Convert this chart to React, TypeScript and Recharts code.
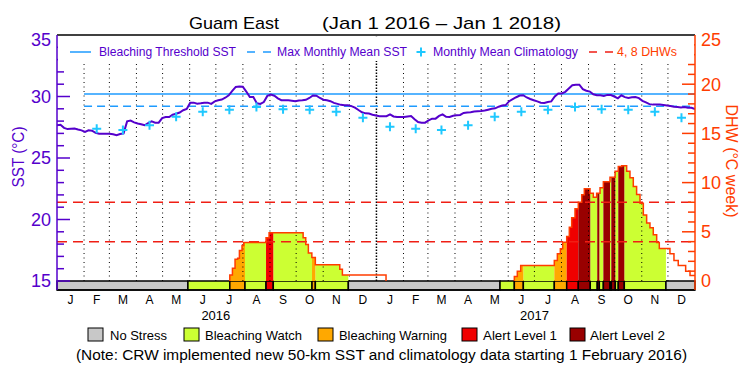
import React from "react";
import {
  ComposedChart,
  Line,
  Area,
  Scatter,
  XAxis,
  YAxis,
  ReferenceLine,
  ReferenceArea,
} from "recharts";

const FONT = "'Liberation Sans', Arial, sans-serif";
const PURPLE = "#5500cc";
const BLUE = "#1e9bff";
const CYAN = "#1ec8ff";
const ORANGE_RED = "#ff3c00";
const DASH_RED = "#f01e14";

// x axis is days since 1 Jan 2016
const END_DAY = 731;
const monthStartDay = [
  0, 31, 60, 91, 121, 152, 182, 213, 244, 274, 305, 335,
  366, 397, 425, 456, 486, 517, 547, 578, 609, 639, 670, 700, 731,
];
const monthLetters = [
  "J", "F", "M", "A", "M", "J", "J", "A", "S", "O", "N", "D",
  "J", "F", "M", "A", "M", "J", "J", "A", "S", "O", "N", "D",
];
const years = ["2016", "2017"];
const yearCenterDay = [182, 547];

const sstTicks = [15, 16, 17, 18, 19, 20, 21, 22, 23, 24, 25, 26, 27, 28, 29, 30, 31, 32, 33, 34, 35];
const dhwTicks = [0, 1, 2, 3, 4, 5, 6, 7, 8, 9, 10, 11, 12, 13, 14, 15, 16, 17, 18, 19, 20, 21, 22, 23, 24, 25];

// SST, evenly spaced from 1 Jan 2016 to 1 Jan 2018
const sst = [
  27.66, 27.7, 27.45, 27.35, 27.38, 27.4, 27.32, 27.25, 27.12, 27.25,
  27.22, 27.05, 26.98, 26.98, 26.98, 26.98, 26.93, 26.86, 26.95, 27.0,
  27.98, 28.04, 27.9, 27.8, 27.75, 27.66, 27.83, 27.98, 27.87, 27.87,
  28.25, 28.33, 28.33, 28.52, 28.6, 28.7, 28.88, 28.98, 29.5, 29.5,
  29.42, 29.45, 29.5, 29.5, 29.4, 29.6, 29.69, 29.75, 29.9, 30.1,
  30.45, 30.78, 30.82, 30.8, 30.4, 29.96, 29.96, 29.45, 29.4, 29.55,
  30.05, 30.15, 30.06, 29.85, 29.7, 29.69, 29.69, 29.66, 29.62, 29.68,
  29.69, 29.73, 29.88, 30.08, 30.07, 29.88, 29.74, 29.7, 29.62, 29.48,
  29.4, 29.32, 29.28, 29.28, 29.22, 29.1, 28.9, 28.72, 28.63, 28.61,
  28.52, 28.46, 28.4, 28.4, 28.4, 28.55, 28.38, 28.33, 28.33, 28.33,
  28.38, 28.42, 28.15, 27.92, 27.87, 27.87, 28.05, 28.2, 28.2, 28.42,
  28.55, 28.35, 28.33, 28.43, 28.47, 28.5, 28.66, 28.7, 28.72, 28.78,
  28.8, 28.82, 28.86, 28.93, 29.0, 29.04, 29.17, 29.26, 29.3, 29.62,
  29.78, 29.94, 30.08, 30.1, 29.92, 29.8, 29.7, 29.6, 29.5, 29.48,
  29.55, 29.6, 30.0, 30.25, 30.25, 30.38, 30.65, 30.92, 30.96, 30.96,
  30.6, 30.47, 30.4, 30.18, 30.1, 30.1, 30.05, 30.13, 30.12, 30.0,
  29.85, 30.1, 29.95, 29.88, 29.93, 29.96, 29.87, 29.65, 29.52, 29.38,
  29.34, 29.34, 29.34, 29.31, 29.27, 29.23, 29.16, 29.15, 29.1, 29.14,
  29.08, 29.08, 28.97,
];

// monthly mean climatology Jan..Dec, shown from Feb 2016
const climatology = [27.55, 27.38, 27.28, 27.66, 28.36, 28.76, 28.93, 29.15, 28.96, 28.93, 28.76, 28.28];
const climStartMonth = 1;

const bleachingThreshold = 30.2;
const maxMonthlyMean = 29.2;
const thresholdStartDay = 31;
const dhwRefLevels = [4, 8];

// degree heating weeks, step values starting on each day
const dhwDay = [
  0, 198, 201, 204, 207, 209, 212, 214, 239.5, 243, 282, 285, 288, 292, 296, 324, 327, 377,
  524, 527.4, 531.3, 569.8, 573.3, 576.7, 579.4, 584, 587, 589.7, 593.5, 597.3, 601.2, 604.2,
  610.7, 614.5, 618.3, 622.2, 626, 633.6, 639.4, 643.1, 647, 652.7, 656.5, 660.3, 664.1, 668,
  671.8, 675.6, 679.4, 683.2, 687.1, 690.1, 702.3, 706.9, 711.8, 720.3, 725.3, 731,
];
const dhwValue = [
  0, 0.6, 1.3, 2.2, 2.3, 3.1, 3.6, 3.9, 4.4, 4.9, 4.4, 3.7, 2.85, 2.4, 1.65, 1.2, 0.6, 0,
  0.46, 1.0, 1.58, 2.08, 2.76, 3.27, 3.94, 4.52, 5.47, 6.42, 7.34, 8.0, 8.76, 9.37,
  8.92, 8.52, 8.92, 9.47, 10.08, 10.55, 11.16, 11.64, 11.72, 11.16, 10.49, 9.6, 8.8, 7.9,
  6.7, 5.9, 5.4, 4.7, 3.9, 3.3, 2.76, 2.08, 1.58, 1.0, 0.56, 0.56,
];

// bleaching alert level, starting on each day
const stressStartDay = [
  0, 150, 198, 215.4, 239.5, 247.8, 292.2, 296, 333.8, 507.6, 524, 534.3, 569.8, 584,
  597.3, 611, 619, 621.4, 626, 633.6, 635.1, 639.7, 643.1, 650, 697.7,
];
const stressLevel = [0, 1, 2, 1, 3, 1, 2, 1, 0, 1, 2, 1, 2, 3, 4, 1, 4, 1, 4, 1, 4, 1, 4, 1, 0];
const stressNames = ["No Stress", "Bleaching Watch", "Bleaching Warning", "Alert Level 1", "Alert Level 2"];
const stressColors = ["#c8c8c8", "#ccff33", "#ffa800", "#f00000", "#990000"];

// plot geometry: stress bar sits under the 15 degC / 0 DHW line
const BAR_FRAC = 9 / 246;
const SST_MIN = 15 - 20 * BAR_FRAC;
const DHW_MIN = 0 - 25 * BAR_FRAC;

const sstRows = sst.map((v, i) => ({ day: (i * END_DAY) / (sst.length - 1), sst: v }));

const climRows: { day: number; clim: number }[] = [];
for (let m = climStartMonth; m < monthLetters.length; m++) {
  climRows.push({ day: (monthStartDay[m] + monthStartDay[m + 1]) / 2, clim: climatology[m % 12] });
}

const monthMid = monthLetters.map((_, m) => (monthStartDay[m] + monthStartDay[m + 1]) / 2);

const valueAt = (days: number[], vals: number[], d: number) => {
  let v = vals[0];
  for (let i = 0; i < days.length; i++) if (days[i] <= d) v = vals[i];
  return v;
};

// outline of the DHW curve, only while DHW > 0
const dhwLineRows: { day: number; dhw: number | null }[] = [];
for (let i = 0; i < dhwDay.length; i++) {
  const v = dhwValue[i];
  const prev = i > 0 ? dhwValue[i - 1] : 0;
  if (v === 0) {
    if (prev > 0) dhwLineRows.push({ day: dhwDay[i], dhw: 0 }, { day: dhwDay[i], dhw: null });
  } else {
    if (prev === 0) dhwLineRows.push({ day: dhwDay[i], dhw: 0 });
    dhwLineRows.push({ day: dhwDay[i], dhw: v });
  }
}

// DHW fill split by alert level
const breaks = Array.from(new Set([...dhwDay, ...stressStartDay, END_DAY])).sort((a, b) => a - b);
const fillRows: { day: number; v: number | null }[][] = stressColors.map(() => []);
let prevLevel = -1;
for (let k = 0; k < breaks.length - 1; k++) {
  const a = breaks[k];
  const b = breaks[k + 1];
  const v = valueAt(dhwDay, dhwValue, a);
  const lvl = valueAt(stressStartDay, stressLevel, a);
  if (v > 0 && lvl > 0) {
    const rows = fillRows[lvl];
    if (prevLevel !== lvl && rows.length) rows.push({ day: a, v: null });
    rows.push({ day: a, v }, { day: b, v });
    prevLevel = lvl;
  } else {
    prevLevel = -1;
  }
}

const flat = (value: number, from: number) => [
  { day: from, y: value },
  { day: END_DAY, y: value },
];

const SstTick = (props: any) => {
  const { x, y, payload } = props;
  const v = payload.value;
  const major = v % 5 === 0;
  return (
    <g>
      {v < 35 && <line x1={x} x2={x + (major ? 13 : 7)} y1={y} y2={y} stroke={PURPLE} strokeWidth={1.5} />}
      {major && (
        <text x={x - 6} y={y + (v === 35 ? 5 : 0)} dy="0.36em" textAnchor="end" fontSize={18} fill={PURPLE} fontFamily={FONT}>
          {v}
        </text>
      )}
    </g>
  );
};

const DhwTick = (props: any) => {
  const { x, y, payload } = props;
  const v = payload.value;
  const major = v % 5 === 0;
  return (
    <g>
      {v > 0 && v < 25 && <line x1={x} x2={x - (major ? 13 : 7)} y1={y} y2={y} stroke={ORANGE_RED} strokeWidth={1.5} />}
      {major && (
        <text x={x + 6} y={y + (v === 25 ? 5 : 0)} dy="0.36em" textAnchor="start" fontSize={18} fill={ORANGE_RED} fontFamily={FONT}>
          {v}
        </text>
      )}
    </g>
  );
};

const MonthTick = (props: any) => {
  const { x, y, payload } = props;
  const idx = monthMid.indexOf(payload.value);
  return (
    <text x={x} y={y + 14} textAnchor="middle" fontSize={12} fill="#000" fontFamily={FONT}>
      {monthLetters[idx]}
    </text>
  );
};

const YearTick = (props: any) => {
  const { x, y, payload } = props;
  const idx = yearCenterDay.indexOf(payload.value);
  return (
    <text x={x} y={y + 10} textAnchor="middle" fontSize={13} fill="#000" fontFamily={FONT}>
      {years[idx]}
    </text>
  );
};

const Plus = (p: any) =>
  p.cx == null || p.cy == null ? <g /> : (
    <path
      d={`M${p.cx - 4.5},${p.cy}H${p.cx + 4.5}M${p.cx},${p.cy - 4.5}V${p.cy + 4.5}`}
      stroke={CYAN}
      strokeWidth={2}
      fill="none"
    />
  );

const legendItems = [
  { boxX: 88, textX: 110, textLen: 57 },
  { boxX: 184, textX: 205, textLen: 97 },
  { boxX: 318, textX: 339, textLen: 108 },
  { boxX: 462, textX: 483, textLen: 74 },
  { boxX: 570, textX: 590, textLen: 75 },
];

export default function App() {
  return (
    <div style={{ position: "fixed", left: 0, top: 0, width: 750, height: 375, background: "#fff" }}>
      <ComposedChart width={750} height={375} margin={{ top: 35, right: 15, bottom: 45, left: 17 }}>
        <XAxis
          type="number"
          dataKey="day"
          domain={[0, END_DAY]}
          allowDataOverflow
          ticks={monthMid}
          interval={0}
          height={20}
          tickSize={0}
          tickMargin={0}
          tickLine={false}
          axisLine={{ stroke: "#000", strokeWidth: 1.5 }}
          tick={MonthTick}
        />
        <XAxis
          xAxisId="yr"
          type="number"
          dataKey="day"
          domain={[0, END_DAY]}
          allowDataOverflow
          ticks={yearCenterDay}
          interval={0}
          height={20}
          tickSize={0}
          tickMargin={0}
          tickLine={false}
          axisLine={false}
          tick={YearTick}
        />
        <YAxis
          yAxisId="sst"
          domain={[SST_MIN, 35]}
          allowDataOverflow
          ticks={sstTicks}
          interval={0}
          width={40}
          tickSize={0}
          tickMargin={0}
          tickLine={false}
          axisLine={{ stroke: PURPLE, strokeWidth: 1.5 }}
          tick={SstTick}
        />
        <YAxis
          yAxisId="dhw"
          orientation="right"
          domain={[DHW_MIN, 25]}
          allowDataOverflow
          ticks={dhwTicks}
          interval={0}
          width={40}
          tickSize={0}
          tickMargin={0}
          tickLine={false}
          axisLine={{ stroke: ORANGE_RED, strokeWidth: 1.5 }}
          tick={DhwTick}
        />

        {stressStartDay.map((d, i) => (
          <ReferenceArea
            key={`bar-${i}`}
            yAxisId="sst"
            x1={d}
            x2={i + 1 < stressStartDay.length ? stressStartDay[i + 1] : END_DAY}
            y1={SST_MIN}
            y2={15}
            fill={stressColors[stressLevel[i]]}
            fillOpacity={1}
            stroke="#000"
            strokeWidth={1.5}
            ifOverflow="visible"
          />
        ))}

        {fillRows.map((rows, lvl) =>
          lvl === 0 ? null : (
            <Area
              key={`fill-${lvl}`}
              data={rows}
              dataKey="v"
              yAxisId="dhw"
              type="linear"
              baseValue={0}
              stroke="none"
              fill={stressColors[lvl]}
              fillOpacity={1}
              isAnimationActive={false}
            />
          )
        )}

        {monthStartDay.slice(1, -1).map((d) => (
          <ReferenceLine
            key={`grid-${d}`}
            yAxisId="sst"
            segment={[
              { x: d, y: 15 },
              { x: d, y: 35 },
            ]}
            stroke="#000"
            strokeWidth={d === 366 ? 1.5 : 1}
            strokeDasharray={d === 366 ? "1.5 1.5" : "1 3.5"}
          />
        ))}

        <ReferenceLine yAxisId="sst" y={35} stroke="#000" strokeWidth={1.5} />

        {dhwRefLevels.map((lv) => (
          <Line
            key={`dhwref-${lv}`}
            data={flat(lv, 0)}
            dataKey="y"
            yAxisId="dhw"
            stroke={DASH_RED}
            strokeWidth={1.5}
            strokeDasharray="10 6"
            dot={false}
            isAnimationActive={false}
          />
        ))}

        <Line
          data={dhwLineRows}
          dataKey="dhw"
          yAxisId="dhw"
          type="stepAfter"
          stroke={ORANGE_RED}
          strokeWidth={1.5}
          dot={false}
          isAnimationActive={false}
        />

        <Line
          data={flat(bleachingThreshold, thresholdStartDay)}
          dataKey="y"
          yAxisId="sst"
          stroke={BLUE}
          strokeWidth={1.5}
          dot={false}
          isAnimationActive={false}
        />
        <Line
          data={flat(maxMonthlyMean, thresholdStartDay)}
          dataKey="y"
          yAxisId="sst"
          stroke={BLUE}
          strokeWidth={1.5}
          strokeDasharray="8 5"
          dot={false}
          isAnimationActive={false}
        />

        <Scatter data={climRows} dataKey="clim" yAxisId="sst" shape={Plus} isAnimationActive={false} />

        <Line
          data={sstRows}
          dataKey="sst"
          yAxisId="sst"
          type="linear"
          stroke={PURPLE}
          strokeWidth={2}
          dot={false}
          isAnimationActive={false}
        />
      </ComposedChart>

      <svg
        width={750}
        height={375}
        style={{ position: "absolute", left: 0, top: 0, pointerEvents: "none" }}
        fontFamily={FONT}
      >
        <text x={189} y={29} fontSize={17} fill="#000" textLength={90} lengthAdjust="spacingAndGlyphs">
          Guam East
        </text>
        <text x={322} y={29} fontSize={17} fill="#000" textLength={239} lengthAdjust="spacingAndGlyphs">
          (Jan 1 2016 – Jan 1 2018)
        </text>

        <rect x={58} y={36.5} width={636} height={24.5} fill="#fff" />
        <line x1={70} x2={91} y1={52} y2={52} stroke={BLUE} strokeWidth={1.5} />
        <text x={99} y={56} fontSize={12} fill={PURPLE} textLength={137} lengthAdjust="spacingAndGlyphs">
          Bleaching Threshold SST
        </text>
        <line x1={247} x2={271} y1={52} y2={52} stroke={BLUE} strokeWidth={1.5} strokeDasharray="8 8" />
        <text x={277} y={56} fontSize={12} fill={PURPLE} textLength={130} lengthAdjust="spacingAndGlyphs">
          Max Monthly Mean SST
        </text>
        <path d="M416.5,52H425.5M421,47.5V56.5" stroke={CYAN} strokeWidth={2} />
        <text x={433} y={56} fontSize={12} fill={PURPLE} textLength={145} lengthAdjust="spacingAndGlyphs">
          Monthly Mean Climatology
        </text>
        <line x1={589} x2={613} y1={52} y2={52} stroke={DASH_RED} strokeWidth={1.5} strokeDasharray="8 8" />
        <text x={617} y={56} fontSize={12} fill={ORANGE_RED} textLength={60} lengthAdjust="spacingAndGlyphs">
          4, 8 DHWs
        </text>

        <text
          transform="translate(18,157) rotate(-90)"
          textAnchor="middle"
          dy="0.36em"
          fontSize={16}
          fill={PURPLE}
          textLength={61}
          lengthAdjust="spacingAndGlyphs"
        >
          SST (°C)
        </text>
        <text
          transform="translate(732,161) rotate(90)"
          textAnchor="middle"
          dy="0.36em"
          fontSize={16}
          fill={ORANGE_RED}
          textLength={113}
          lengthAdjust="spacingAndGlyphs"
        >
          DHW (°C week)
        </text>

        {stressNames.map((name, i) => (
          <g key={name}>
            <rect x={legendItems[i].boxX} y={328} width={15} height={13} fill={stressColors[i]} stroke="#000" strokeWidth={1} />
            <text x={legendItems[i].textX} y={339.5} fontSize={13} fill="#000" textLength={legendItems[i].textLen} lengthAdjust="spacingAndGlyphs">
              {name}
            </text>
          </g>
        ))}
        <text x={76} y={360} fontSize={14} fill="#000" textLength={611} lengthAdjust="spacingAndGlyphs">
          (Note: CRW implemented new 50-km SST and climatology data starting 1 February 2016)
        </text>
      </svg>
    </div>
  );
}
